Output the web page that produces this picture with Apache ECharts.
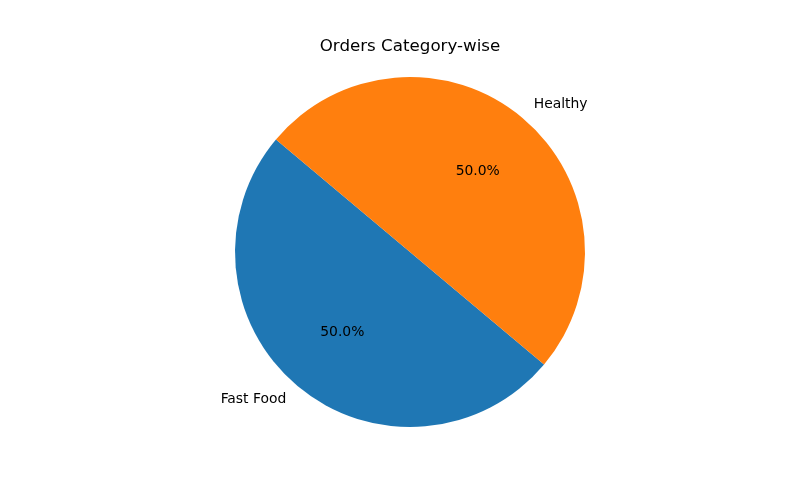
<!DOCTYPE html>
<html>
<head>
<meta charset="utf-8">
<script src="https://cdn.jsdelivr.net/npm/echarts@6/dist/echarts.min.js"></script>
<style>
  html, body { margin: 0; padding: 0; background: #fff; }
  #chart { width: 800px; height: 500px; }
</style>
</head>
<body>
<div id="chart"></div>
<script>
// categories and values
const categories = ['Fast Food', 'Healthy'];
const orders = [50, 50];
const colors = ['#1f77b4', '#ff7f0e'];

const FONT = 'DejaVu Sans';
const R = 175;

const slices = categories.map((name, i) => ({
  name: name,
  value: orders[i],
  itemStyle: { color: colors[i] }
}));

const chart = echarts.init(document.getElementById('chart'));
chart.setOption({
  backgroundColor: '#fff',
  animation: false,
  title: {
    text: 'Orders Category-wise',
    left: 410,
    top: 38,
    padding: 0,
    textAlign: 'center',
    textStyle: { fontFamily: FONT, fontSize: 16.7, fontWeight: 'normal', color: '#000' }
  },
  series: [
    {
      // the pie itself, with category names just outside
      type: 'pie',
      center: [410, 252],
      radius: [0, R],
      startAngle: 140,
      clockwise: false,
      silent: true,
      itemStyle: { borderWidth: 0 },
      label: {
        show: true,
        position: 'outside',
        fontFamily: FONT,
        fontSize: 13.9,
        color: '#000',
        distanceToLabelLine: 0
      },
      labelLine: { show: false, length: R * 0.1, length2: 0 },
      avoidLabelOverlap: false,
      data: slices
    },
    {
      // transparent copy, only to place the percentages at 0.6 r
      type: 'pie',
      center: [410, 252],
      radius: [0, R * 1.17],
      startAngle: 140,
      clockwise: false,
      silent: true,
      itemStyle: { color: 'rgba(0,0,0,0)', borderWidth: 0 },
      label: {
        show: true,
        position: 'inside',
        fontFamily: FONT,
        fontSize: 13.9,
        color: '#000',
        formatter: p => p.percent.toFixed(1) + '%'
      },
      labelLine: { show: false },
      data: categories.map((name, i) => ({ name: name, value: orders[i] }))
    }
  ]
});
</script>
</body>
</html>
